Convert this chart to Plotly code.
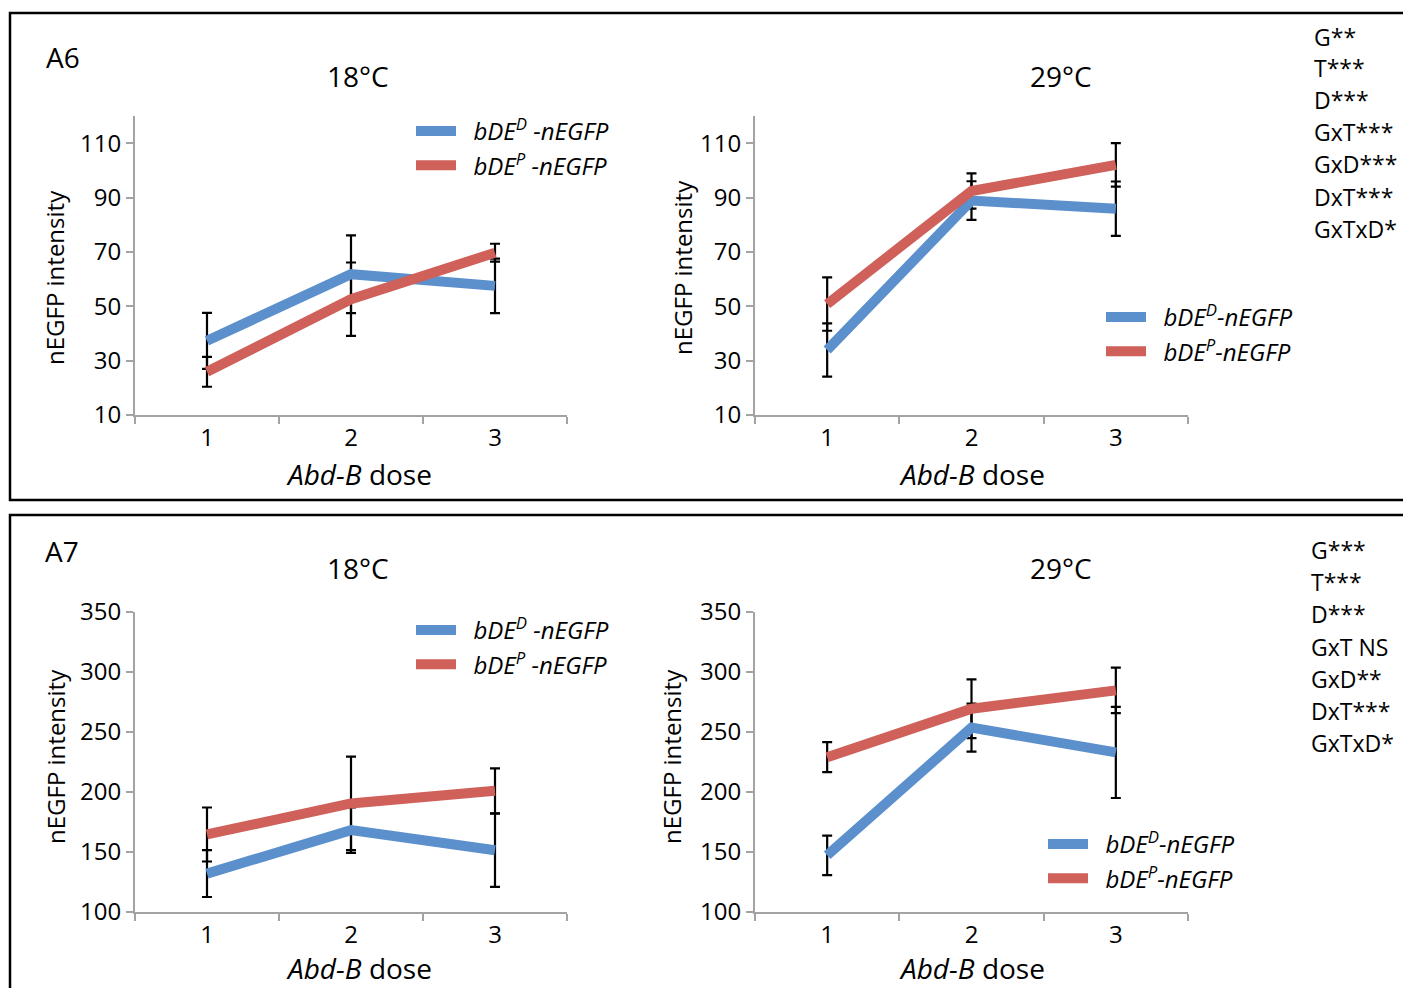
import plotly.graph_objects as go

# ---------------- data ----------------
doses = ["1", "2", "3"]

a6_18_D = [37.3, 61.8, 57.5]
a6_18_D_err = [10.3, 14.3, 10.0]
a6_18_P = [25.9, 52.6, 69.7]
a6_18_P_err = [5.5, 13.5, 3.3]

a6_29_D = [33.9, 88.9, 85.9]
a6_29_D_err = [9.8, 7.1, 10.0]
a6_29_P = [50.8, 92.4, 102.0]
a6_29_P_err = [9.8, 6.5, 8.0]

a7_18_D = [132.0, 168.2, 151.5]
a7_18_D_err = [19.5, 19.0, 30.5]
a7_18_P = [164.6, 190.5, 201.0]
a7_18_P_err = [22.5, 39.0, 18.7]

a7_29_D = [147.2, 253.6, 233.0]
a7_29_D_err = [16.5, 20.0, 38.0]
a7_29_P = [229.0, 269.4, 284.7]
a7_29_P_err = [12.5, 24.5, 19.0]

a6_stats = ["G**", "T***", "D***", "GxT***", "GxD***", "DxT***", "GxTxD*"]
a7_stats = ["G***", "T***", "D***", "GxT NS", "GxD**", "DxT***", "GxTxD*"]

a6_ticks = [10, 30, 50, 70, 90, 110]
a7_ticks = [100, 150, 200, 250, 300, 350]

name_D_left = "&nbsp;&nbsp;<i>bDE<sup>D</sup> -nEGFP</i>"
name_P_left = "&nbsp;&nbsp;<i>bDE<sup>P</sup> -nEGFP</i>"
name_D_right = "&nbsp;&nbsp;<i>bDE<sup>D</sup>-nEGFP</i>"
name_P_right = "&nbsp;&nbsp;<i>bDE<sup>P</sup>-nEGFP</i>"

# ---------------- style ----------------
W, H = 1411, 988
OFF = 8  # page body margin
BLUE = "#5b90cc"
RED = "#cf605a"
AXC = "#a3a3a3"
FONT = "Open Sans"


def px(x):
    return (x - OFF) / W


def py(y):
    return 1 - (y - OFF) / H


fig = go.Figure()

panels = [
    ("x", "y", a6_18_D, a6_18_D_err, a6_18_P, a6_18_P_err, name_D_left, name_P_left, "legend"),
    ("x2", "y2", a6_29_D, a6_29_D_err, a6_29_P, a6_29_P_err, name_D_right, name_P_right, "legend2"),
    ("x3", "y3", a7_18_D, a7_18_D_err, a7_18_P, a7_18_P_err, name_D_left, name_P_left, "legend3"),
    ("x4", "y4", a7_29_D, a7_29_D_err, a7_29_P, a7_29_P_err, name_D_right, name_P_right, "legend4"),
]

for xa, ya, D, De, P, Pe, nD, nP, lg in panels:
    # error bars (drawn beneath the lines)
    for vals, errs in ((D, De), (P, Pe)):
        fig.add_trace(go.Scatter(
            x=doses, y=vals, xaxis=xa, yaxis=ya, mode="markers",
            marker=dict(size=1, color="rgba(0,0,0,0)"),
            error_y=dict(type="data", array=errs, visible=True,
                         color="black", thickness=2.2, width=5),
            showlegend=False, hoverinfo="skip"))
    fig.add_trace(go.Scatter(
        x=doses, y=D, xaxis=xa, yaxis=ya, mode="lines", name=nD,
        line=dict(color=BLUE, width=10), legend=lg))
    fig.add_trace(go.Scatter(
        x=doses, y=P, xaxis=xa, yaxis=ya, mode="lines", name=nP,
        line=dict(color=RED, width=10), legend=lg))

xdom_l = [px(135), px(567)]
xdom_r = [px(755), px(1188)]
ydom_a6 = [py(415), py(116)]
ydom_a7 = [py(912), py(612)]

xcommon = dict(type="category", range=[-0.5, 2.5], tickson="boundaries",
               ticks="outside", ticklen=7, tickwidth=2, tickcolor=AXC,
               showline=True, linecolor=AXC, linewidth=2, showgrid=False,
               zeroline=False, automargin=False,
               tickfont=dict(family=FONT, size=24, color="black"),
               fixedrange=True)
ycommon = dict(ticks="outside", ticklen=7, tickwidth=2, tickcolor=AXC,
               showline=True, linecolor=AXC, linewidth=2, showgrid=False,
               zeroline=False, automargin=False,
               tickfont=dict(family=FONT, size=24, color="black"),
               fixedrange=True)

fig.update_layout(
    width=W, height=H, margin=dict(l=0, r=0, t=0, b=0, autoexpand=False),
    paper_bgcolor="white", plot_bgcolor="white",
    font=dict(family=FONT, color="black"),
    xaxis=dict(domain=xdom_l, anchor="y", **xcommon),
    xaxis2=dict(domain=xdom_r, anchor="y2", **xcommon),
    xaxis3=dict(domain=xdom_l, anchor="y3", **xcommon),
    xaxis4=dict(domain=xdom_r, anchor="y4", **xcommon),
    yaxis=dict(domain=ydom_a6, anchor="x", range=[10, 120], tickvals=a6_ticks, **ycommon),
    yaxis2=dict(domain=ydom_a6, anchor="x2", range=[10, 120], tickvals=a6_ticks, **ycommon),
    yaxis3=dict(domain=ydom_a7, anchor="x3", range=[100, 350], tickvals=a7_ticks, **ycommon),
    yaxis4=dict(domain=ydom_a7, anchor="x4", range=[100, 350], tickvals=a7_ticks, **ycommon),
)

legend_common = dict(xanchor="left", yanchor="top", bgcolor="rgba(0,0,0,0)",
                     font=dict(family=FONT, size=24, color="black"),
                     tracegroupgap=0, itemwidth=40,
                     itemclick=False, itemdoubleclick=False)
fig.update_layout(
    legend=dict(x=px(411), y=py(109), **legend_common),
    legend2=dict(x=px(1101), y=py(295), **legend_common),
    legend3=dict(x=px(411), y=py(608), **legend_common),
    legend4=dict(x=px(1043), y=py(822), **legend_common),
)

ann = []


def text(x, y, s, size, xanchor="center", angle=0):
    ann.append(dict(x=px(x), y=py(y), xref="paper", yref="paper", text=s,
                    showarrow=False, xanchor=xanchor, yanchor="middle",
                    textangle=angle, font=dict(family=FONT, size=size, color="black")))


# panel labels and titles
text(44, 57, "A6", 28, "left")
text(43, 551, "A7", 28, "left")
text(358, 76, "18°C", 28)
text(1061, 76, "29°C", 28)
text(358, 568, "18°C", 28)
text(1061, 568, "29°C", 28)

# axis titles
for xc, yc in ((359, 474), (972, 474), (359, 968), (972, 968)):
    text(xc, yc, "<i>Abd-B</i> dose", 28)
for xc, yc in ((55, 277), (683, 268), (55, 756), (671, 757)):
    text(xc, yc, "nEGFP intensity", 24, angle=-90)

# statistics
a6_stat_y = [37, 68, 100, 132, 164, 197, 229]
a7_stat_y = [550, 582, 614, 647, 679, 711, 743]
for s, yy in zip(a6_stats, a6_stat_y):
    text(1312, yy, s, 23, "left")
for s, yy in zip(a7_stats, a7_stat_y):
    text(1309, yy, s, 23, "left")

fig.update_layout(annotations=ann)

# panel frames
fig.add_shape(type="rect", xref="paper", yref="paper",
              x0=px(10), x1=px(1408), y0=py(500), y1=py(13),
              line=dict(color="black", width=2.5))
fig.add_shape(type="rect", xref="paper", yref="paper",
              x0=px(10), x1=px(1408), y0=py(1010), y1=py(515),
              line=dict(color="black", width=2.5))

fig.write_html("out.html")
